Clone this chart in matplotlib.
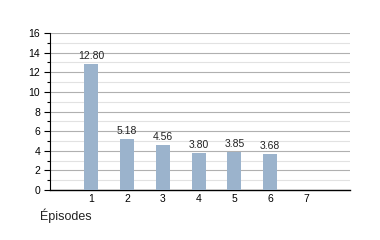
import numpy as np
import matplotlib.pyplot as plt
from matplotlib.ticker import MultipleLocator

# --- Data ---
episodes = [1, 2, 3, 4, 5, 6]
values = [12.80, 5.18, 4.56, 3.80, 3.85, 3.68]
xtick_labels = ['1', '2', '3', '4', '5', '6', '7']

plt.rcParams['font.family'] = ['Liberation Sans', 'DejaVu Sans']

fig = plt.figure(figsize=(3.8, 2.4), dpi=100)
ax = fig.add_axes([50 / 380, 50 / 240, 300 / 380, 157 / 240])

ax.bar(episodes, values, width=0.39, color='#9bb3cc', zorder=3)

# value labels above bars
for x, v in zip(episodes, values):
    ax.text(x, v + 0.3, f'{v:.2f}', ha='center', va='bottom', fontsize=7.5, color='#222222', zorder=4)

ax.set_xlim(-0.15, 8.23)
ax.set_ylim(0, 16)
ax.set_xticks(range(1, 8))
ax.set_xticklabels(xtick_labels)
ax.yaxis.set_major_locator(MultipleLocator(2))
ax.yaxis.set_minor_locator(MultipleLocator(1))

ax.grid(True, which='major', axis='y', color='#b0b0b0', linewidth=0.8, zorder=0)
ax.grid(True, which='minor', axis='y', color='#e2e2e2', linewidth=0.8, zorder=0)

for side in ['top', 'right']:
    ax.spines[side].set_visible(False)
ax.spines['left'].set_linewidth(0.8)
ax.spines['bottom'].set_linewidth(1.0)

ax.tick_params(axis='y', which='major', length=4, width=0.8, labelsize=7.5, pad=3)
ax.tick_params(axis='y', which='minor', length=2, width=0.8)
ax.tick_params(axis='x', length=0, labelsize=7.5, pad=3)

fig.text(40 / 380, 1 - 216 / 240, 'Épisodes', ha='left', va='center', fontsize=9, color='#222222')

fig.savefig('out.png', dpi=100)
